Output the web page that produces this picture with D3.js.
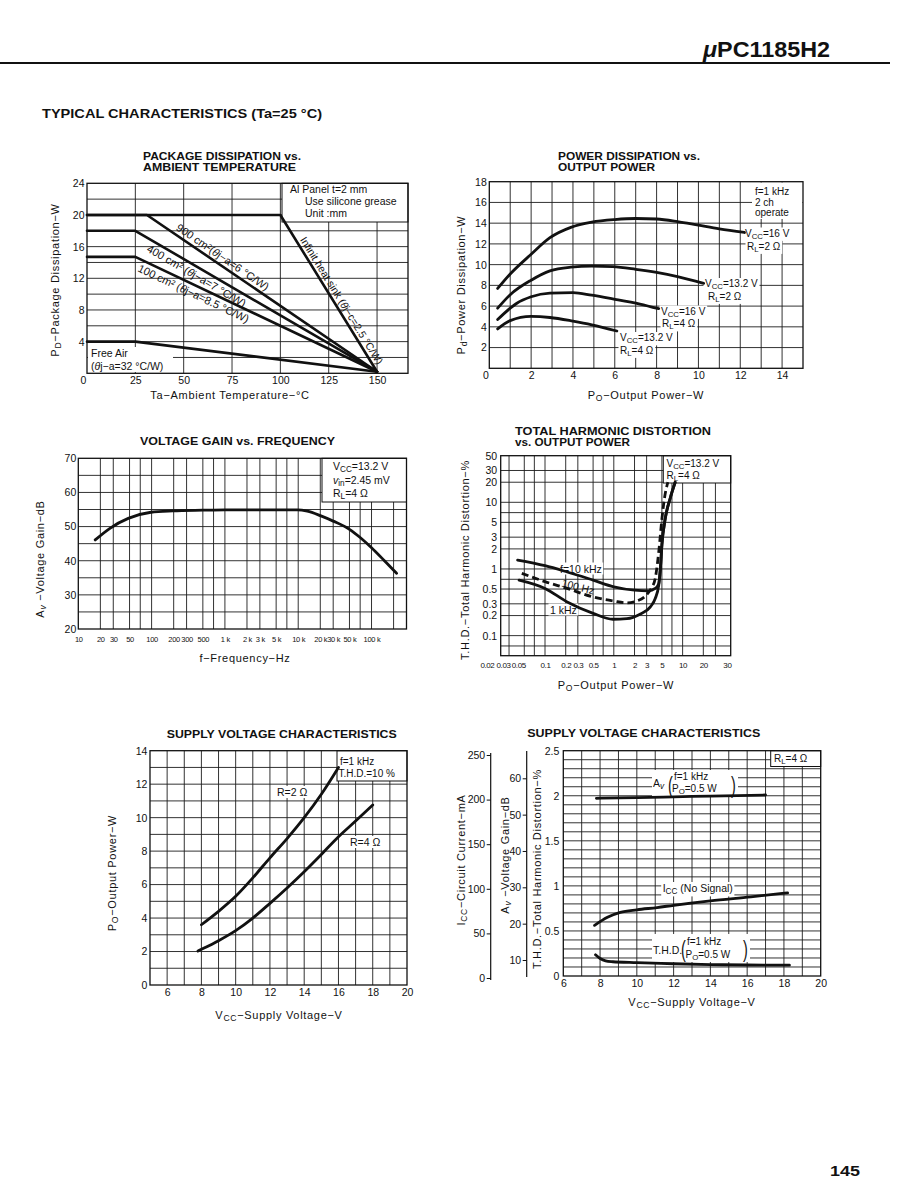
<!DOCTYPE html>
<html><head><meta charset="utf-8">
<script src="https://cdn.jsdelivr.net/npm/d3@7/dist/d3.min.js"></script>
<style>
html,body{margin:0;padding:0;background:#fff;}
svg{display:block;}
text{font-family:"Liberation Sans",Arial,Helvetica,sans-serif;fill:#111;}
</style></head>
<body>
<svg id="page" width="900" height="1200" xmlns="http://www.w3.org/2000/svg"></svg>
<script>
// ======================= DATA =======================
// -- Package dissipation vs. ambient temperature (Ta degC, PD W)
const pkgXTicks = [0, 25, 50, 75, 100, 125, 150];
const pkgYTicks = [4, 8, 12, 16, 20, 24];
const pkgInfinite = [[0, 20], [100, 20], [150, 0.2]];
const pkg900 = [[0, 20], [31, 20], [150, 0.2]];
const pkg400 = [[0, 18], [25, 18], [150, 0.2]];
const pkg100 = [[0, 14.7], [25, 14.7], [150, 0.2]];
const pkgFreeAir = [[0, 4], [25, 4], [150, 0.2]];

// -- Power dissipation vs. output power (Po W, Pd W)
const pdXTicks = [0, 2, 4, 6, 8, 10, 12, 14];
const pdYTicks = [2, 4, 6, 8, 10, 12, 14, 16, 18];
const pdVcc16R2 = [[0.4, 7.7], [1, 9.1], [2, 11.0], [2.9, 12.6], [3.9, 13.6], [4.9, 14.1], [6, 14.35], [7, 14.45], [8, 14.4], [9, 14.15], [10, 13.8], [11, 13.45], [12.2, 13.1]];
const pdVcc132R2 = [[0.4, 5.8], [1, 7.1], [2, 8.5], [2.9, 9.4], [3.9, 9.75], [4.9, 9.85], [5.9, 9.8], [7, 9.55], [8, 9.25], [9, 8.85], [10.25, 8.2]];
const pdVcc16R4 = [[0.4, 4.7], [1, 5.8], [1.3, 6.25], [2, 6.9], [2.9, 7.25], [4, 7.3], [4.9, 7.05], [5.9, 6.7], [7.2, 6.2], [8.1, 5.75]];
const pdVcc132R4 = [[0.4, 3.8], [1, 4.6], [2, 5.0], [2.9, 4.9], [4, 4.55], [4.9, 4.2], [6.1, 3.6]];

// -- Voltage gain vs. frequency
const freqTicks = [10, 20, 30, 50, 100, 200, 300, 500, 1000, 2000, 3000, 5000, 10000, 20000, 30000, 50000, 100000];
const freqTickLabels = ["10", "20", "30", "50", "100", "200", "300", "500", "1 k", "2 k", "3 k", "5 k", "10 k", "20 k", "30 k", "50 k", "100 k"];
const gainTicks = [20, 30, 40, 50, 60, 70];
const gainFreq = [17, 27, 48, 98, 194, 500, 1000, 3000, 9800, 13300, 20000, 30000, 50000, 70000, 100000, 150000, 220000];
const gainDb = [46.1, 49.5, 52.4, 54.2, 54.6, 54.8, 54.9, 54.9, 54.9, 54.5, 53.2, 51.6, 49.2, 46.8, 43.8, 40.0, 36.3];

// -- THD vs. output power (Po W, THD %)
const thdXTicks = [0.02, 0.03, 0.05, 0.1, 0.2, 0.3, 0.5, 1, 2, 3, 5, 10, 20, 30];
const thdYTicks = [0.1, 0.2, 0.3, 0.5, 1, 2, 3, 5, 10, 20, 30, 50];
const thd10k = [[0.04, 1.36], [0.1, 1.12], [0.21, 0.9], [0.5, 0.68], [1, 0.54], [2, 0.48], [3.2, 0.47], [4, 0.51], [4.5, 0.6], [4.75, 1.0], [5.0, 2.3], [5.6, 5.75], [6.6, 11.5], [7.8, 20]];
const thd100 = [[0.046, 0.86], [0.1, 0.645], [0.21, 0.51], [0.5, 0.38], [1, 0.33], [1.55, 0.31], [2.15, 0.33], [3, 0.41], [3.5, 0.51], [4, 0.72], [4.5, 1.8], [5, 5.6], [5.45, 11.5], [6.1, 20]];
const thd1k = [[0.042, 0.68], [0.1, 0.51], [0.21, 0.32], [0.5, 0.216], [0.97, 0.176], [1.55, 0.18], [2.4, 0.21], [3.4, 0.27], [4, 0.36], [4.5, 0.575], [4.75, 1.0], [5.0, 2.3], [5.6, 5.75], [6.6, 11.5], [7.8, 20]];

// -- Supply voltage characteristics: output power (Vcc V, Po W)
const svXTicks = [6, 8, 10, 12, 14, 16, 18, 20];
const poYTicks = [0, 2, 4, 6, 8, 10, 12, 14];
const poR2 = [[8, 3.6], [9, 4.4], [10, 5.3], [11, 6.4], [12, 7.6], [13, 8.75], [14, 10.0], [15, 11.4], [16, 13.0]];
const poR4 = [[7.8, 2.03], [8, 2.13], [9, 2.65], [10, 3.25], [11, 4.0], [12, 4.88], [13, 5.8], [14, 6.77], [15, 7.8], [16, 8.86], [17, 9.8], [18, 10.76]];

// -- Supply voltage characteristics: Icc / Av / THD
const thdSvTicks = [0, 0.5, 1, 1.5, 2, 2.5];
const thdSvLabels = ["0", "0.5", "1", "1.5", "2", "2.5"];
const iccTicks = [0, 50, 100, 150, 200, 250];
const avTicks = [10, 20, 30, 40, 50, 60];
const avVcc = [7.8, 10, 12, 14, 17];
const avDb = [54.5, 54.7, 54.9, 55.1, 55.4];
const iccNoSignal = [[7.7, 59], [8.4, 68], [9.1, 73.5], [10, 76.5], [11.1, 79], [12, 81.5], [14, 86.5], [16.2, 91], [18.2, 95.5]];
const thdSupply = [[7.75, 0.235], [8.0, 0.195], [8.3, 0.168], [8.7, 0.158], [10, 0.148], [12, 0.136], [14, 0.127], [16, 0.122], [18.3, 0.12]];

// ======================= HELPERS =======================
const INK = '#111';
const svg = d3.select('#page');

function rich(t, parts) {
  let shift = 0;
  parts.forEach(p => {
    const s = p[0], st = p[1] || '';
    const ts = t.append('tspan').text(s);
    const isSub = st.indexOf('sub') >= 0;
    const target = isSub ? 2.4 : 0;
    if (target !== shift) ts.attr('dy', target - shift);
    if (isSub) ts.attr('font-size', '0.78em');
    if (st.indexOf('i') >= 0) ts.attr('font-style', 'italic');
    shift = target;
  });
  return t;
}
function txt(layer, x, y, parts, o = {}) {
  const t = layer.append('text').attr('x', x).attr('y', y).attr('font-size', o.size || 10.5);
  if (o.anchor) t.attr('text-anchor', o.anchor);
  if (o.ls != null) t.attr('letter-spacing', o.ls);
  if (o.weight) t.attr('font-weight', o.weight);
  if (o.len) t.attr('textLength', o.len).attr('lengthAdjust', 'spacingAndGlyphs');
  if (o.transform) t.attr('transform', o.transform);
  rich(t, typeof parts === 'string' ? [[parts]] : parts);
  return t;
}
function whiteBehind(bg, t, padX = 1.5, padY = 0) {
  const b = t.node().getBBox();
  bg.append('rect').attr('x', b.x - padX).attr('y', b.y - padY)
    .attr('width', b.width + 2 * padX).attr('height', b.height + 2 * padY).attr('fill', '#fff');
}
function box(bg, x0, y0, x1, y1, border) {
  bg.append('rect').attr('x', x0).attr('y', y0).attr('width', x1 - x0).attr('height', y1 - y0)
    .attr('fill', '#fff').attr('stroke', border ? INK : 'none').attr('stroke-width', 1);
}
function makePanel(x, y, xGrid, yGrid) {
  const g = svg.append('g');
  const L = { grid: g.append('g'), bg: g.append('g'), curve: g.append('g'), text: g.append('g'), frame: g.append('g'), axes: g.append('g') };
  const [x0, x1] = x.range();
  const [yb, yt] = y.range();
  L.grid.append('g').selectAll('line').data(xGrid).join('line')
    .attr('x1', d => x(d)).attr('x2', d => x(d)).attr('y1', yb).attr('y2', yt)
    .attr('stroke', '#1c1c1c').attr('stroke-width', 0.9);
  L.grid.append('g').selectAll('line').data(yGrid).join('line')
    .attr('y1', d => y(d)).attr('y2', d => y(d)).attr('x1', x0).attr('x2', x1)
    .attr('stroke', '#1c1c1c').attr('stroke-width', 0.9);
  L.frame.append('rect').attr('x', x0).attr('y', yt).attr('width', x1 - x0).attr('height', yb - yt)
    .attr('fill', 'none').attr('stroke', INK).attr('stroke-width', 1.3);
  return L;
}
function curve(L, x, y, data, o = {}) {
  const line = d3.line().x(d => x(d[0])).y(d => y(d[1])).curve(o.curve || d3.curveMonotoneX);
  L.curve.append('path').datum(data).attr('d', line).attr('fill', 'none')
    .attr('stroke', INK).attr('stroke-width', o.w || 2.8)
    .attr('stroke-linecap', o.dash ? 'butt' : 'round').attr('stroke-linejoin', 'round')
    .attr('stroke-dasharray', o.dash || null);
}
function axisL(layer, y, xpos, vals, fmt, o = {}) {
  const ax = d3.axisLeft(y).tickValues(vals).tickSize(o.tick || 0).tickSizeOuter(0).tickPadding(o.pad == null ? 3 : o.pad);
  if (fmt) ax.tickFormat(fmt);
  const a = layer.append('g').attr('transform', `translate(${xpos},0)`).call(ax);
  a.attr('font-size', o.size || 10.5);
  a.select('.domain').remove();
  a.selectAll('text').attr('fill', INK);
  if (o.ls != null) a.selectAll('text').attr('letter-spacing', o.ls);
  a.selectAll('line').attr('stroke', INK).attr('stroke-width', 1);
  return a;
}
function axisB(layer, x, ypos, vals, fmt, o = {}) {
  const ax = d3.axisBottom(x).tickValues(vals).tickSize(0).tickSizeOuter(0).tickPadding(o.pad == null ? 3 : o.pad);
  if (fmt) ax.tickFormat(fmt);
  const a = layer.append('g').attr('transform', `translate(0,${ypos})`).call(ax);
  a.attr('font-size', o.size || 10.5);
  a.select('.domain').remove();
  a.selectAll('text').attr('fill', INK);
  if (o.ls != null) a.selectAll('text').attr('letter-spacing', o.ls);
  return a;
}
function xTitle(cx, y, parts) { return txt(svg, cx, y, parts, { size: 11, ls: 0.7, anchor: 'middle' }); }
function yTitle(cx, cy, parts) { return txt(svg, 0, 4, parts, { size: 11, ls: 0.7, anchor: 'middle', transform: `translate(${cx},${cy}) rotate(-90)` }); }
function cTitle(x, y, s, len) { return txt(svg, x, y, s, { size: 10.5, weight: 'bold', len: len }); }

const VCC = v => [["V"], ["CC", "sub"], ["=" + v + " V"]];
const RL = v => [["R"], ["L", "sub"], ["=" + v + "  Ω"]];

// ======================= PAGE HEADER =======================
svg.append('line').attr('x1', 0).attr('x2', 890).attr('y1', 63).attr('y2', 63).attr('stroke', INK).attr('stroke-width', 2);
txt(svg, 703, 57, [["μ", "i"], ["PC1185H2"]], { size: 22, weight: 'bold', len: 127 });
txt(svg, 42, 118, "TYPICAL CHARACTERISTICS (Ta=25 °C)", { size: 12.5, weight: 'bold', len: 280 });
txt(svg, 830, 1176, "145", { size: 14, weight: 'bold', len: 30 });

// ======================= CHART 1 =======================
{
  const P = { l: 87, r: 408, t: 183.3, b: 373.3 };
  const x = d3.scaleLinear().domain([0, 166]).range([P.l, P.r]);
  const y = d3.scaleLinear().domain([0, 24]).range([P.b, P.t]);
  const L = makePanel(x, y, d3.range(25, 151, 25), d3.range(2, 24, 2));
  cTitle(143, 160, "PACKAGE DISSIPATION vs.", 158);
  cTitle(143, 171, "AMBIENT TEMPERATURE", 153);
  // legend box
  box(L.bg, 282, P.t, P.r, 222, true);
  txt(L.text, 290, 193, "Al Panel t=2 mm", { size: 10.5 });
  txt(L.text, 305, 204.5, "Use silicone grease", { size: 10.5 });
  txt(L.text, 305, 216.5, "Unit :mm", { size: 10.5 });
  // free air label
  box(L.bg, 88, 347, 173, 372, false);
  txt(L.text, 91, 357, "Free Air", { size: 10.5 });
  txt(L.text, 91, 369.5, [["("], ["θ", "i"], ["j−a=32 °C/W)"]], { size: 10.5 });
  [pkgInfinite, pkg900, pkg400, pkg100, pkgFreeAir].forEach(d => curve(L, x, y, d, { curve: d3.curveLinear, w: 2.6 }));
  function along(seg, frac, dy, parts, size) {
    const X0 = x(seg[0][0]), Y0 = y(seg[0][1]), X1 = x(seg[1][0]), Y1 = y(seg[1][1]);
    const ang = Math.atan2(Y1 - Y0, X1 - X0) * 180 / Math.PI;
    const px = X0 + (X1 - X0) * frac, py = Y0 + (Y1 - Y0) * frac;
    txt(L.text, 0, dy, parts, { size: size, anchor: 'middle', transform: `translate(${px},${py}) rotate(${ang})` });
  }
  along([pkg900[1], pkg900[2]], 0.31, -4, [["900 cm²("], ["θ", "i"], ["j−a=6 °C/W)"]], 11);
  along([pkg400[1], pkg400[2]], 0.27, 12, [["400 cm² ("], ["θ", "i"], ["j−a=7 °C/W)"]], 11);
  along([pkg100[1], pkg100[2]], 0.255, 12, [["100 cm² ("], ["θ", "i"], ["j−a=8.5 °C/W)"]], 11);
  along([pkgInfinite[1], pkgInfinite[2]], 0.57, -3.5, [["Infinit heat sink ("], ["θ", "i"], ["j−c=2.5 °C/W)"]], 10.5);
  axisL(L.axes, y, P.l, pkgYTicks, null, { pad: 2.5 });
  const ax = axisB(L.axes, x, P.b, pkgXTicks, null, { pad: 3 });
  ax.selectAll('text').filter(d => d === 0).attr('dx', -4);
  xTitle(230, 399, "Ta−Ambient Temperature−°C");
  yTitle(55, 280, [["P"], ["D", "sub"], ["−Package Dissipation−W"]]);
}

// ======================= CHART 2 =======================
{
  const P = { l: 489.3, r: 803, t: 181.7, b: 368.3 };
  const x = d3.scaleLinear().domain([0, 15]).range([P.l, P.r]);
  const y = d3.scaleLinear().domain([0, 18]).range([P.b, P.t]);
  const L = makePanel(x, y, d3.range(1, 15, 1), d3.range(2, 18, 2));
  cTitle(558, 160, "POWER DISSIPATION vs.", 142);
  cTitle(558, 171, "OUTPUT POWER", 97);
  box(L.bg, 752, P.t + 0.8, P.r - 0.6, 219, false);
  txt(L.text, 755, 195, "f=1 kHz", { size: 10 });
  txt(L.text, 755, 205.5, "2 ch", { size: 10 });
  txt(L.text, 755, 216, "operate", { size: 10 });
  const labs = [
    [745, 236.5, VCC("16")], [747, 249.5, RL("2")],
    [705, 287, VCC("13.2")], [708, 299.5, RL("2")],
    [661, 314.5, VCC("16")], [662, 327, RL("4")],
    [620, 341, VCC("13.2")], [620, 353.5, RL("4")]
  ];
  labs.forEach(a => whiteBehind(L.bg, txt(L.text, a[0], a[1], a[2], { size: 10 })));
  [pdVcc16R2, pdVcc132R2, pdVcc16R4, pdVcc132R4].forEach(d => curve(L, x, y, d));
  axisL(L.axes, y, P.l, pdYTicks, null, { pad: 2.5 });
  const ax = axisB(L.axes, x, P.b, pdXTicks, null, { pad: 3 });
  ax.selectAll('text').filter(d => d === 0).attr('dx', -4);
  xTitle(646, 399, [["P"], ["O", "sub"], ["−Output Power−W"]]);
  yTitle(461, 285, [["P"], ["d", "sub"], ["−Power Dissipation−W"]]);
}

// ======================= CHART 3 =======================
{
  const P = { l: 78.3, r: 406.5, t: 458.3, b: 629 };
  const x = d3.scaleLog().domain([10, 300000]).range([P.l, P.r]);
  const y = d3.scaleLinear().domain([20, 70]).range([P.b, P.t]);
  const xg = [];
  [10, 100, 1000, 10000, 100000].forEach(dd => [1, 2, 3, 5, 7].forEach(m => { const v = dd * m; if (v > 10 && v < 300000) xg.push(v); }));
  const L = makePanel(x, y, xg, d3.range(25, 70, 5));
  cTitle(140, 445, "VOLTAGE GAIN vs. FREQUENCY", 195);
  box(L.bg, 322, P.t, P.r, 502, true);
  txt(L.text, 333, 470, VCC("13.2"), { size: 10.5 });
  txt(L.text, 333, 483.5, [["v", "i"], ["in", "sub"], ["=2.45 mV"]], { size: 10.5 });
  txt(L.text, 333, 497, RL("4"), { size: 10.5 });
  curve(L, x, y, gainFreq.map((f, i) => [f, gainDb[i]]));
  axisL(L.axes, y, P.l, gainTicks, null, { pad: 2 });
  axisB(L.axes, x, P.b, freqTicks, (d, i) => freqTickLabels[i], { pad: 8, size: 7.5, ls: -0.3 });
  xTitle(245, 662, "f−Frequency−Hz");
  yTitle(40, 559, [["A"], ["v", "subi"], [" −Voltage Gain−dB"]]);
}

// ======================= CHART 4 =======================
{
  const P = { l: 500.7, r: 730.7, t: 455.7, b: 655.7 };
  const x = d3.scaleLog().domain([0.0227, 50]).range([P.l, P.r]);
  const y = d3.scaleLog().domain([0.05, 50]).range([P.b, P.t]);
  const L = makePanel(x, y, [0.03, 0.05, 0.07, 0.1, 0.2, 0.3, 0.5, 0.7, 1, 2, 3, 5, 7, 10, 20, 30],
    [0.07, 0.1, 0.2, 0.3, 0.5, 0.7, 1, 2, 3, 5, 7, 10, 20, 30]);
  cTitle(515, 435, "TOTAL HARMONIC DISTORTION", 196);
  cTitle(515, 446, "vs. OUTPUT POWER", 115);
  box(L.bg, 663.3, P.t, P.r, 483, true);
  txt(L.text, 666.5, 466.5, VCC("13.2"), { size: 10 });
  txt(L.text, 666.5, 479, RL("4"), { size: 10 });
  whiteBehind(L.bg, txt(L.text, 560, 572.5, "f=10 kHz", { size: 10.5 }));
  whiteBehind(L.bg, txt(L.text, 550, 613.5, "1 kHz", { size: 10.5 }));
  curve(L, x, y, thd10k);
  curve(L, x, y, thd1k);
  curve(L, x, y, thd100, { dash: '7,4' });
  txt(L.text, 0, 3.5, "100 Hz", { size: 10.5, anchor: 'middle', transform: `translate(578,587) rotate(14)` });
  axisL(L.axes, y, P.l, thdYTicks, d => String(d), { pad: 3.5 });
  const shift = { 0.02: -10, 0.03: -6, 0.05: -6, 30: 11.5 };
  const ax = axisB(L.axes, x, P.b, thdXTicks, d => String(d), { pad: 6.5, size: 8, ls: -0.4 });
  ax.selectAll('text').attr('dx', d => shift[d] || 0);
  xTitle(616, 689, [["P"], ["O", "sub"], ["−Output Power−W"]]);
  yTitle(465, 560, "T.H.D.−Total Harmonic Distortion−%");
}

// ======================= CHART 5 =======================
{
  const P = { l: 150, r: 407, t: 750.7, b: 985 };
  const x = d3.scaleLinear().domain([5, 20]).range([P.l, P.r]);
  const y = d3.scaleLinear().domain([0, 14]).range([P.b, P.t]);
  const L = makePanel(x, y, d3.range(6, 20, 1), d3.range(1, 14, 1));
  cTitle(166.7, 738, "SUPPLY VOLTAGE CHARACTERISTICS", 230);
  box(L.bg, 337, P.t, P.r, 781, true);
  txt(L.text, 340, 764.5, "f=1 kHz", { size: 10 });
  txt(L.text, 338.5, 777, "T.H.D.=10 %", { size: 10 });
  whiteBehind(L.bg, txt(L.text, 277, 796, "R=2  Ω", { size: 10.5 }));
  whiteBehind(L.bg, txt(L.text, 350, 846, "R=4  Ω", { size: 10.5 }));
  curve(L, x, y, poR2);
  curve(L, x, y, poR4);
  axisL(L.axes, y, P.l, poYTicks, null, { pad: 2.7 });
  axisB(L.axes, x, P.b, svXTicks, null, { pad: 4 });
  xTitle(279, 1019, [["V"], ["CC", "sub"], ["−Supply Voltage−V"]]);
  yTitle(112, 873, [["P"], ["O", "sub"], ["−Output Power−W"]]);
}

// ======================= CHART 6 =======================
{
  const P = { l: 563.3, r: 820.7, t: 750.7, b: 976 };
  const x = d3.scaleLinear().domain([6, 20]).range([P.l, P.r]);
  const y = d3.scaleLinear().domain([0, 2.5]).range([P.b, P.t]);
  const yIcc = d3.scaleLinear().domain([0, 250]).range([978, 755]);
  const yAv = d3.scaleLinear().domain([10, 60]).range([960, 778.3]);
  const L = makePanel(x, y, d3.range(7, 20, 1), d3.range(1, 25).map(i => i / 10));
  cTitle(527.3, 737, "SUPPLY VOLTAGE CHARACTERISTICS", 233);
  box(L.bg, 770.7, P.t, P.r, 766.5, true);
  txt(L.text, 774, 762, RL("4"), { size: 10 });
  // Av label
  box(L.bg, 652, 770, 738, 797, false);
  txt(L.text, 653, 787, [["A"], ["v", "subi"]], { size: 10.5 });
  txt(L.text, 0, 0, "(", { size: 24, transform: 'translate(668,793) scale(0.6,1)' });
  txt(L.text, 674, 780, "f=1 kHz", { size: 10 });
  txt(L.text, 672, 792, [["P"], ["O", "sub"], ["=0.5 W"]], { size: 10 });
  txt(L.text, 0, 0, ")", { size: 24, transform: 'translate(731,793) scale(0.6,1)' });
  // Icc label
  whiteBehind(L.bg, txt(L.text, 662.7, 892, [["I"], ["CC", "sub"], [" (No Signal)"]], { size: 10.5 }));
  // THD label
  box(L.bg, 652, 934, 750, 962, false);
  txt(L.text, 653, 954, "T.H.D.", { size: 10.5 });
  txt(L.text, 0, 0, "(", { size: 24, transform: 'translate(681,957) scale(0.6,1)' });
  txt(L.text, 687, 945, "f=1  kHz", { size: 10 });
  txt(L.text, 685.5, 957.5, [["P"], ["O", "sub"], ["=0.5  W"]], { size: 10 });
  txt(L.text, 0, 0, ")", { size: 24, transform: 'translate(743,957) scale(0.6,1)' });
  // curves
  L.curve.append('path').datum(avVcc.map((v, i) => [v, avDb[i]]))
    .attr('d', d3.line().x(d => x(d[0])).y(d => yAv(d[1])).curve(d3.curveMonotoneX))
    .attr('fill', 'none').attr('stroke', INK).attr('stroke-width', 2.8).attr('stroke-linecap', 'round');
  L.curve.append('path').datum(iccNoSignal)
    .attr('d', d3.line().x(d => x(d[0])).y(d => yIcc(d[1])).curve(d3.curveMonotoneX))
    .attr('fill', 'none').attr('stroke', INK).attr('stroke-width', 2.8).attr('stroke-linecap', 'round');
  curve(L, x, y, thdSupply, { curve: d3.curveCatmullRom });
  // axes
  axisL(L.axes, y, P.l, thdSvTicks, (d, i) => thdSvLabels[i], { pad: 4 });
  axisB(L.axes, x, P.b, svXTicks, null, { pad: 3.3 });
  svg.append('line').attr('x1', 490.7).attr('x2', 490.7).attr('y1', 753).attr('y2', 980).attr('stroke', INK).attr('stroke-width', 1.2);
  svg.append('line').attr('x1', 526.7).attr('x2', 526.7).attr('y1', 751).attr('y2', 977).attr('stroke', INK).attr('stroke-width', 1.2);
  axisL(svg, yIcc, 490.7, iccTicks, null, { tick: 4, pad: 1.5 });
  axisL(svg, yAv, 526.7, avTicks, null, { tick: 4, pad: 1.5 });
  xTitle(692, 1006, [["V"], ["CC", "sub"], ["−Supply Voltage−V"]]);
  yTitle(460.7, 860, [["I"], ["CC", "sub"], ["−Circuit Current−mA"]]);
  yTitle(505, 855, [["A"], ["v", "subi"], [" −Voltage Gain−dB"]]);
  yTitle(537.3, 869, "T.H.D.−Total Harmonic Distortion−%");
}
</script>
</body></html>
